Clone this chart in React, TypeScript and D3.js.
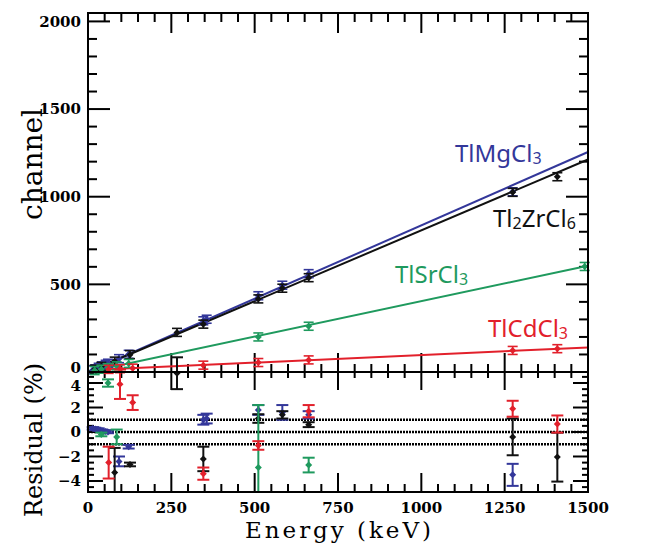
import React from "react";
import * as d3 from "d3";

// ---------- data ----------
const seriesNames = ["TlMgCl3", "Tl2ZrCl6", "TlSrCl3", "TlCdCl3"];
const seriesColors = ["#33379a", "#111111", "#1f9a5e", "#e2202b"];

// fit lines: [E, channel] end points
const fitMg = [[0, 0], [1500, 1255]];
const fitZr = [[0, 0], [1500, 1212]];
const fitSr = [[0, 0], [1500, 606]];
const fitCd = [[60, 15], [1500, 140]];

// top-panel data points [E, channel]
const ptsMg = [[14, 12], [22, 18], [32, 27], [42, 35], [53, 44], [60, 50], [93, 76], [122, 101], [346, 292], [356, 301], [511, 435], [583, 495], [662, 561], [1274, 1028]];
const ptsZr = [[20, 16], [40, 32], [80, 62], [126, 99], [267, 226], [346, 273], [511, 417], [583, 478], [662, 538], [1274, 1025], [1408, 1114]];
const ptsSr = [[20, 8], [40, 16], [60, 25], [86, 35], [122, 49], [511, 200], [662, 261], [1490, 602]];
const ptsCd = [[62, 15], [96, 19], [134, 22], [346, 39], [511, 54], [662, 69], [1274, 123], [1408, 133]];

// residuals [E, value %, error %]
const resMg = [[14, 0.3, 0.1], [22, 0.25, 0.1], [32, 0.2, 0.1], [42, 0.1, 0.1], [53, 0.05, 0.1], [60, 0.0, 0.1], [93, -2.4, 0.4], [122, -1.2, 0.15], [346, 1.0, 0.4], [356, 1.1, 0.4], [511, 1.8, 0.4], [583, 1.6, 0.6], [662, 1.4, 0.3], [1274, -3.5, 0.9]];
const resZr = [[80, -3.3, 2.0], [126, -2.65, 0.15], [267, 4.8, 1.3], [346, -2.2, 1.0], [511, 1.1, 0.35], [583, 1.4, 0.3], [662, 0.6, 0.2], [1274, -0.4, 1.5], [1408, -2.05, 2.0]];
const resSr = [[40, -0.2, 0.15], [60, 4.0, 0.3], [86, -0.4, 0.6], [511, -2.9, 5.1], [662, -2.7, 0.6]];
const resCd = [[62, -2.5, 1.3], [96, 3.9, 1.2], [134, 2.4, 0.6], [346, -3.4, 0.5], [511, -1.1, 0.35], [662, 1.7, 0.5], [1274, 1.9, 0.65], [1408, 0.65, 0.7]];

const xTicks = [0, 250, 500, 750, 1000, 1250, 1500];
const yTicks = [0, 500, 1000, 1500, 2000];
const rTicks = [4, 2, 0, -2, -4];
const rLines = [1, 0, -1];

// ---------- layout ----------
const W = 648, H = 543;
const L = 88, R = 588, T = 13, M = 372, B = 492;

export default function App() {
  const x = d3.scaleLinear().domain([0, 1500]).range([L, R]);
  const y = d3.scaleLinear().domain([0, 2048]).range([M, T]);
  const r = d3.scaleLinear().domain([-4.9, 4.9]).range([B, M]);
  const line = d3.line<number[]>().x(d => x(d[0])).y(d => y(d[1]));

  const fits = [fitMg, fitZr, fitSr, fitCd];
  const pts = [ptsMg, ptsZr, ptsSr, ptsCd];
  const res = [resMg, resZr, resSr, resCd];

  const diamond = (cx: number, cy: number, s: number) =>
    `M${cx},${cy - s}L${cx + s},${cy}L${cx},${cy + s}L${cx - s},${cy}Z`;

  const xMinor = d3.range(0, 1501, 50);
  const yMinor = d3.range(0, 2001, 100);
  const rMinor = d3.range(-4.5, 4.6, 0.5);

  const tickFont = { fontFamily: "DejaVu Serif", fontWeight: "bold", fontSize: 15 } as const;
  const titleFont = { fontFamily: "DejaVu Serif", fontSize: 24 } as const;
  const labFont = { fontFamily: "Noto Sans", fontSize: 24 } as const;

  return (
    <svg width={W} height={H} style={{ position: "absolute", left: 0, top: 0, background: "#fff" }}>
      <defs>
        <clipPath id="resClip"><rect x={0} y={300} width={W} height={B - 300} /></clipPath>
      </defs>
      <rect x={0} y={0} width={W} height={H} fill="#fff" />

      {/* ticks */}
      <g stroke="#000" strokeWidth={2}>
        {xMinor.map(v => {
          const major = v % 250 === 0;
          return (
            <g key={"xt" + v}>
              <line x1={x(v)} x2={x(v)} y1={T} y2={T + (major ? 20 : 9)} />
              <line x1={x(v)} x2={x(v)} y1={M} y2={M - (major ? 19 : 8)} />
              <line x1={x(v)} x2={x(v)} y1={M} y2={M + (major ? 18 : 6)} />
              <line x1={x(v)} x2={x(v)} y1={B} y2={B - (major ? 19 : 8)} />
            </g>
          );
        })}
        {yMinor.map(v => {
          const major = v % 500 === 0;
          return (
            <g key={"yt" + v}>
              <line x1={L} x2={L + (major ? 22 : 9)} y1={y(v)} y2={y(v)} />
              <line x1={R} x2={R - (major ? 22 : 9)} y1={y(v)} y2={y(v)} />
            </g>
          );
        })}
        {rMinor.map(v => {
          const major = Math.abs(v % 2) < 1e-6;
          return (
            <g key={"rt" + v}>
              <line x1={L} x2={L + (major ? 15 : 6)} y1={r(v)} y2={r(v)} />
              <line x1={R} x2={R - (major ? 15 : 6)} y1={r(v)} y2={r(v)} />
            </g>
          );
        })}
      </g>

      {/* residual reference lines */}
      {rLines.map(v => (
        <line key={"rl" + v} x1={L} x2={R} y1={r(v)} y2={r(v)} stroke="#000" strokeWidth={2.5} strokeDasharray="2,1" />
      ))}

      {/* fit lines */}
      {fits.map((f, i) => (
        <path key={"fit" + i} d={line(f) || ""} fill="none" stroke={seriesColors[i]} strokeWidth={2} />
      ))}

      {/* top panel points */}
      {pts.map((ps, i) => (
        <g key={"pts" + i} stroke={seriesColors[i]} fill={seriesColors[i]} strokeWidth={1.6}>
          {ps.map((p, j) => {
            const cx = x(p[0]), cy = y(p[1]);
            return (
              <g key={j}>
                <line x1={cx} x2={cx} y1={cy - 4} y2={cy + 4} />
                <line x1={cx - 5} x2={cx + 5} y1={cy - 4} y2={cy - 4} />
                <line x1={cx - 5} x2={cx + 5} y1={cy + 4} y2={cy + 4} />
                <path d={diamond(cx, cy, 3.5)} stroke="none" />
              </g>
            );
          })}
        </g>
      ))}

      {/* residual points */}
      <g clipPath="url(#resClip)">
        {res.map((rs, i) => (
          <g key={"res" + i} stroke={seriesColors[i]} fill={seriesColors[i]} strokeWidth={2}>
            {rs.map((p, j) => {
              const cx = x(p[0]), cy = r(p[1]);
              const y1 = r(p[1] + p[2]), y2 = r(p[1] - p[2]);
              return (
                <g key={j}>
                  <line x1={cx} x2={cx} y1={y1} y2={y2} />
                  <line x1={cx - 6} x2={cx + 6} y1={y1} y2={y1} />
                  <line x1={cx - 6} x2={cx + 6} y1={y2} y2={y2} />
                  <path d={diamond(cx, cy, 3.5)} stroke="none" />
                </g>
              );
            })}
          </g>
        ))}
      </g>

      {/* frames */}
      <rect x={L} y={T} width={R - L} height={M - T} fill="none" stroke="#000" strokeWidth={2} />
      <rect x={L} y={M} width={R - L} height={B - M} fill="none" stroke="#000" strokeWidth={2} />

      {/* tick labels */}
      <g {...tickFont} fill="#000">
        {yTicks.map(v => (
          <text key={"yl" + v} x={L - 7} y={v === 0 ? y(v) - 4 : y(v)} dy="0.36em" textAnchor="end">{v}</text>
        ))}
        {rTicks.map(v => (
          <text key={"rl" + v} x={L - 7} y={v === 4 ? r(v) + 3 : r(v)} dy="0.36em" textAnchor="end">{v < 0 ? "\u2212" + Math.abs(v) : v}</text>
        ))}
        {xTicks.map(v => (
          <text key={"xl" + v} x={x(v)} y={513} textAnchor="middle">{v}</text>
        ))}
      </g>

      {/* axis titles */}
      <text {...titleFont} fontSize={23} x={338} y={538} textAnchor="middle" textLength={186} lengthAdjust="spacing">Energy (keV)</text>
      <text {...titleFont} fontSize={28} transform="translate(42,164) rotate(-90)" textAnchor="middle">channel</text>
      <text {...titleFont} fontSize={24} transform="translate(42,440) rotate(-90)" textAnchor="middle">Residual (%)</text>

      {/* series labels */}
      <text {...labFont} x={455} y={162} fill={seriesColors[0]}>TlMgCl<tspan fontSize={16} dy={2}>3</tspan></text>
      <text {...labFont} x={493} y={227} fill={seriesColors[1]}>Tl<tspan fontSize={16} dy={2}>2</tspan><tspan dy={-2}>ZrCl</tspan><tspan fontSize={16} dy={2}>6</tspan></text>
      <text {...labFont} x={395} y={283} fill={seriesColors[2]}>TlSrCl<tspan fontSize={16} dy={2}>3</tspan></text>
      <text {...labFont} x={488} y={337} fill={seriesColors[3]}>TlCdCl<tspan fontSize={16} dy={2}>3</tspan></text>
    </svg>
  );
}
